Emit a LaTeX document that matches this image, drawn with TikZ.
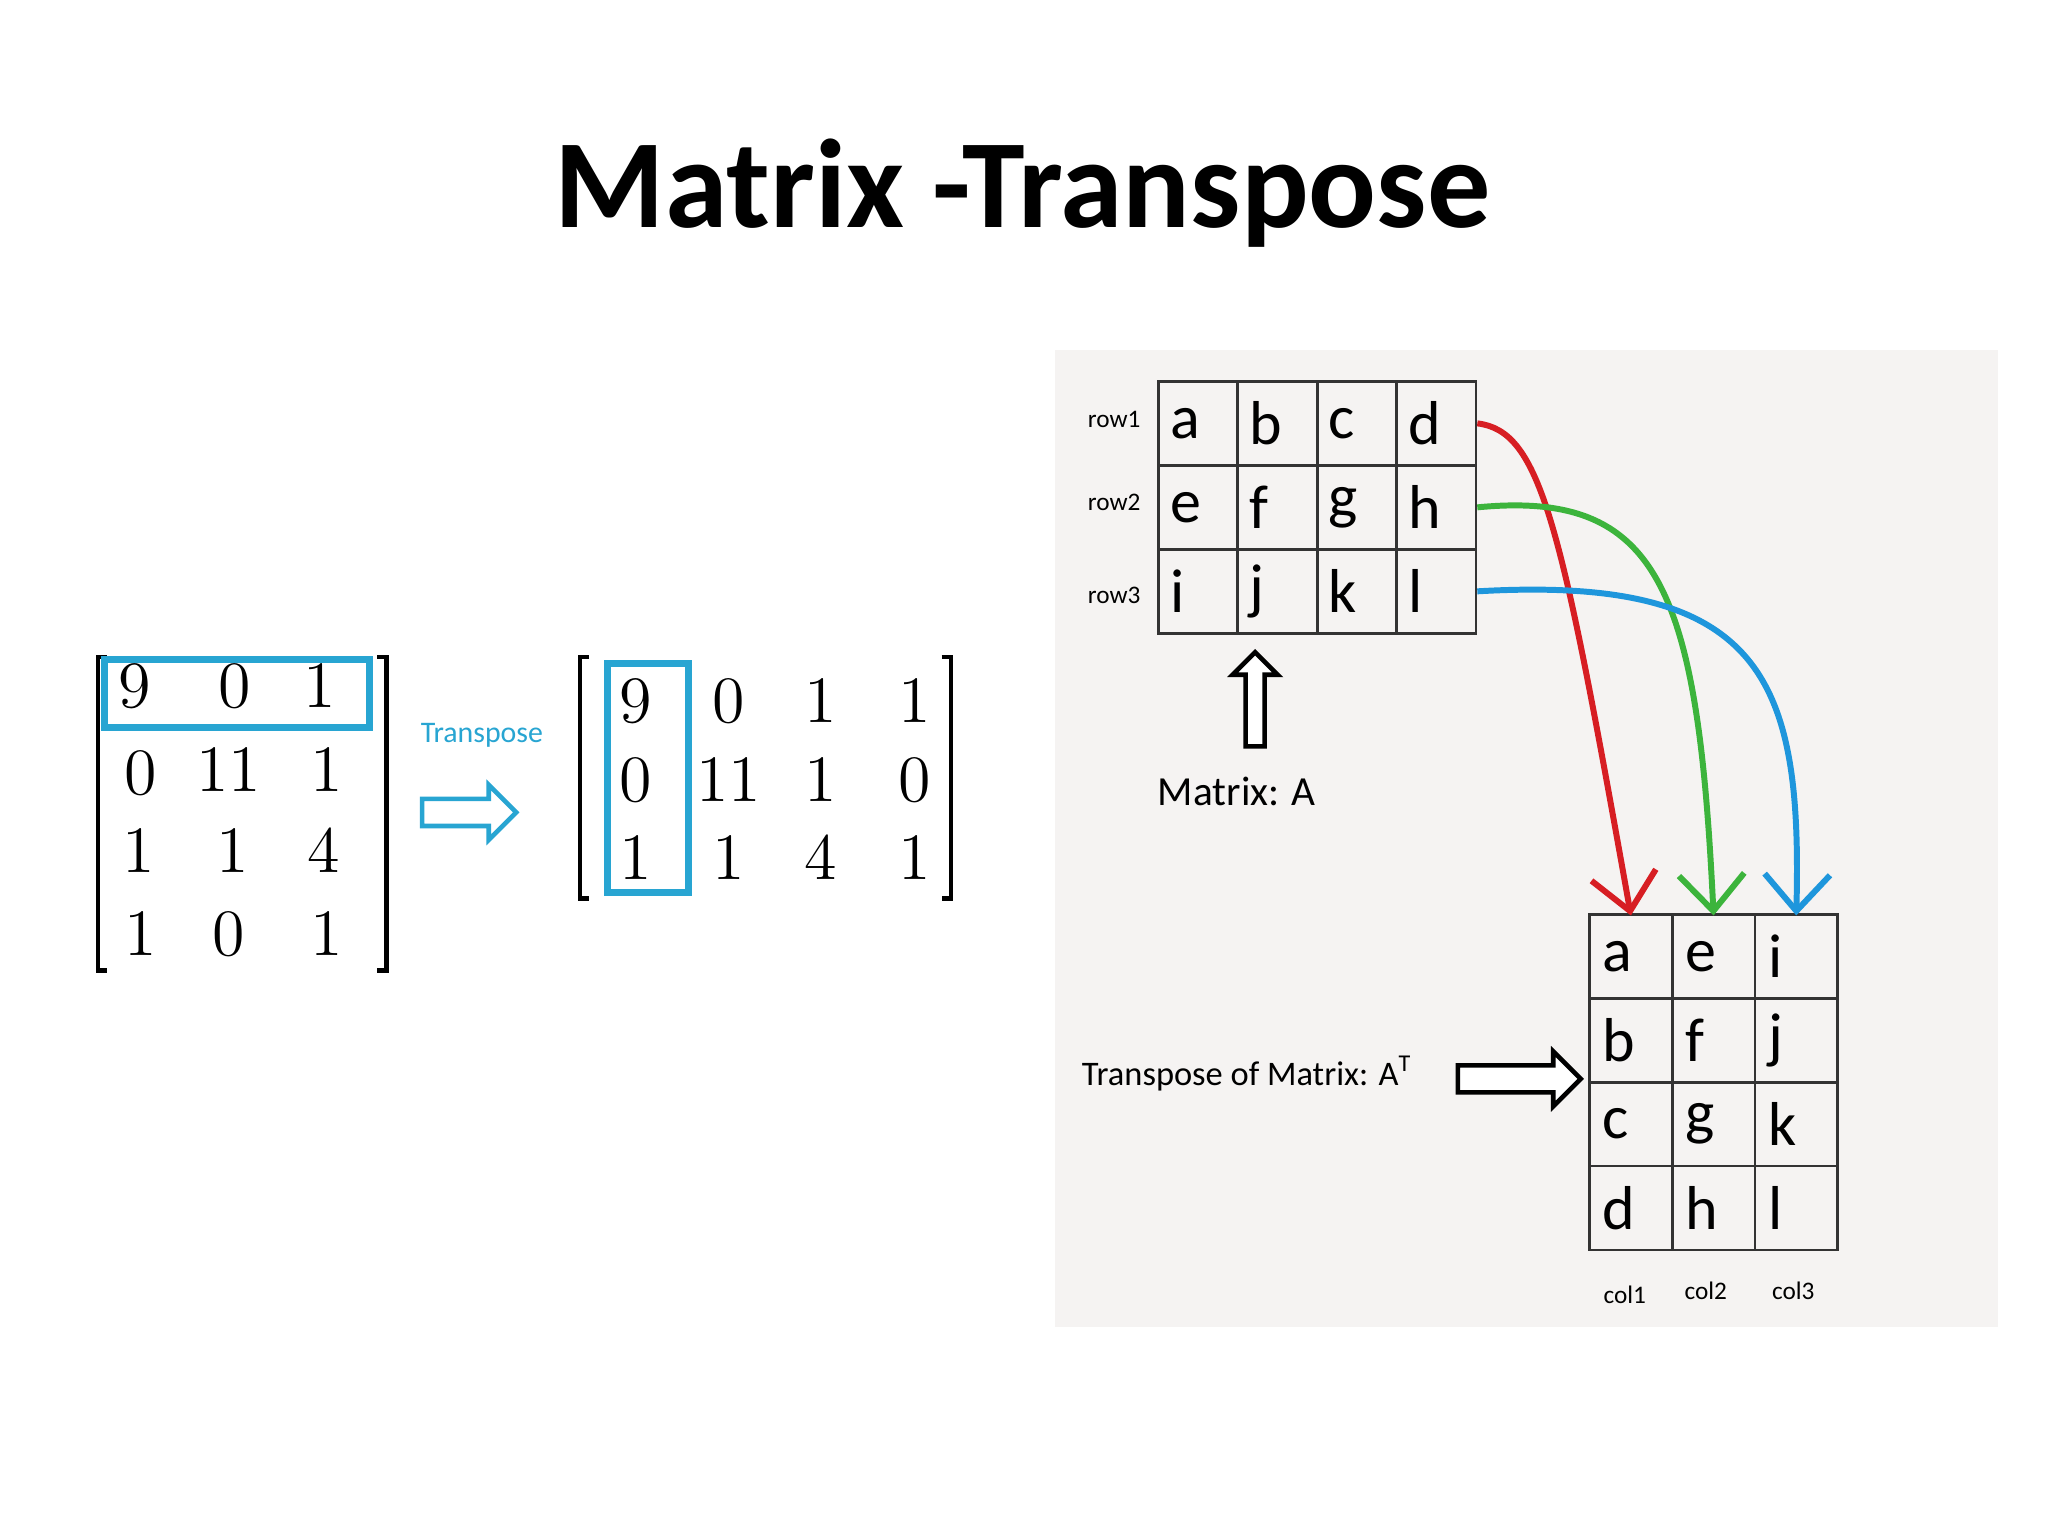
\documentclass[tikz,border=0pt]{standalone}
\usepackage{fontspec}
\setsansfont{Carlito}
\usetikzlibrary{shapes.arrows,arrows.meta}
\definecolor{tblue}{RGB}{40,165,210}
\definecolor{cred}{RGB}{215,30,35}
\definecolor{cgreen}{RGB}{60,180,60}
\definecolor{cblue}{RGB}{30,150,220}
\definecolor{panel}{RGB}{245,243,242}
\tikzset{
 cell/.style={draw=black!80,line width=0.6pt,minimum width=0.6075cm,minimum height=0.643cm,inner sep=0pt,text width=0.43cm,align=left,font=\sffamily\fontsize{13.5}{13}\selectfont},
 cellT/.style={cell,minimum width=0.633cm,minimum height=0.6425cm},
 ent/.style={font=\fontsize{13.5}{14}\selectfont,inner sep=0pt},
 small/.style={font=\sffamily\fontsize{5.5}{6}\selectfont,inner sep=0pt},
 lab/.style={font=\sffamily\fontsize{9}{10}\selectfont,inner sep=0pt},
 hollow/.style={single arrow,draw,line width=1pt,fill=white,minimum height=#1,single arrow head extend=0.1cm,minimum width=0.42cm,inner sep=0.08cm},
 curv/.style={line width=1.3pt,-{Straight Barb[length=0.28cm,width=0.5cm]}},
}
\begin{document}
\begin{tikzpicture}[x=0.01cm,y=-0.01cm]
\useasboundingbox (0,0) rectangle (1568,1176);
\fill[white] (0,0) rectangle (1568,1176);
\node[font=\sffamily\bfseries\fontsize{27.5}{32}\selectfont] (title) at (783,148) {Matrix -Transpose};
% left matrix
\draw[line width=1pt] (82,503)--(75,503)--(75,743)--(82,743) (289,503)--(296,503)--(296,743)--(289,743);
\foreach \v/\x/\y [count=\i] in {9/103/525,0/180/525,1/245/525,0/108/592,11/175/590,1/250/590,1/106/652,1/178/652,4/248/652,1/108/715,0/175/715,1/250/715}
  \node[ent] (l\i) at (\x,\y) {$\v$};
\draw[tblue,line width=1.5pt] (80,505) rectangle (283,557);
\node[font=\sffamily\fontsize{6.5}{7}\selectfont,text=tblue] (tlab) at (369,563) {Transpose};
\node[hollow=0.72cm,draw=tblue] (tarr) at (354,622) {};
% right matrix
\draw[line width=1pt] (451,503)--(444,503)--(444,688)--(451,688) (721,503)--(728,503)--(728,688)--(721,688);
\foreach \v/\x/\y [count=\i] in {9/487/537,0/558/537,1/628/537,1/700/537,0/487/597,11/558/597,1/628/597,0/700/597,1/487/657,1/558/657,4/628/657,1/700/657}
  \node[ent] (r\i) at (\x,\y) {$\v$};
\draw[tblue,line width=1.5pt] (465,508) rectangle (527,683);
% panel
\fill[panel] (808,268) rectangle (1530,1016);
\foreach \r/\row in {1/{a,b,c,d},2/{e,f,g,h},3/{i,j,k,l}}{
  \foreach \t [count=\c] in \row
    \node[cell,anchor=center] (\t) at ({887+60.75*(\c-0.5)},{292+64.3*(\r-0.5)}) {\t};
}
\node[small] (row1) at (853,321) {row1};
\node[small] (row2) at (853,385) {row2};
\node[small] (row3) at (853,456) {row3};
\node[hollow=0.72cm,rotate=90,minimum width=0.34cm,inner sep=0.055cm] (uarr) at (961,539) {};
\node[lab] (mA) at (947,606) {Matrix: A};
\foreach \c/\col in {1/{a,b,c,d},2/{e,f,g,h},3/{i,j,k,l}}{
  \foreach \t [count=\r] in \col
    \node[cellT] (T\t) at ({1217+63.3*(\c-0.5)},{700+64.25*(\r-0.5)}) {\t};
}
\node[small] (col1) at (1244,991) {col1};
\node[small] (col2) at (1306,988) {col2};
\node[small] (col3) at (1373,988) {col3};
\node[font=\sffamily\fontsize{7.5}{8}\selectfont,inner sep=0pt] (tm) at (955,822) {Transpose of Matrix: A\textsuperscript{T}};
\node[hollow=0.94cm] (rarr) at (1158,826) {};
\draw[curv,cred] (d.east) .. controls (1180,330) and (1195,400) .. ([yshift=-0.02cm]Ta.north);
\draw[curv,cgreen] (h.east) .. controls (1270,375) and (1300,450) .. ([yshift=-0.02cm]Te.north);
\draw[curv,cblue] (l.east) .. controls (1350,440) and (1380,520) .. ([yshift=-0.02cm]Ti.north);
\end{tikzpicture}
\end{document}
